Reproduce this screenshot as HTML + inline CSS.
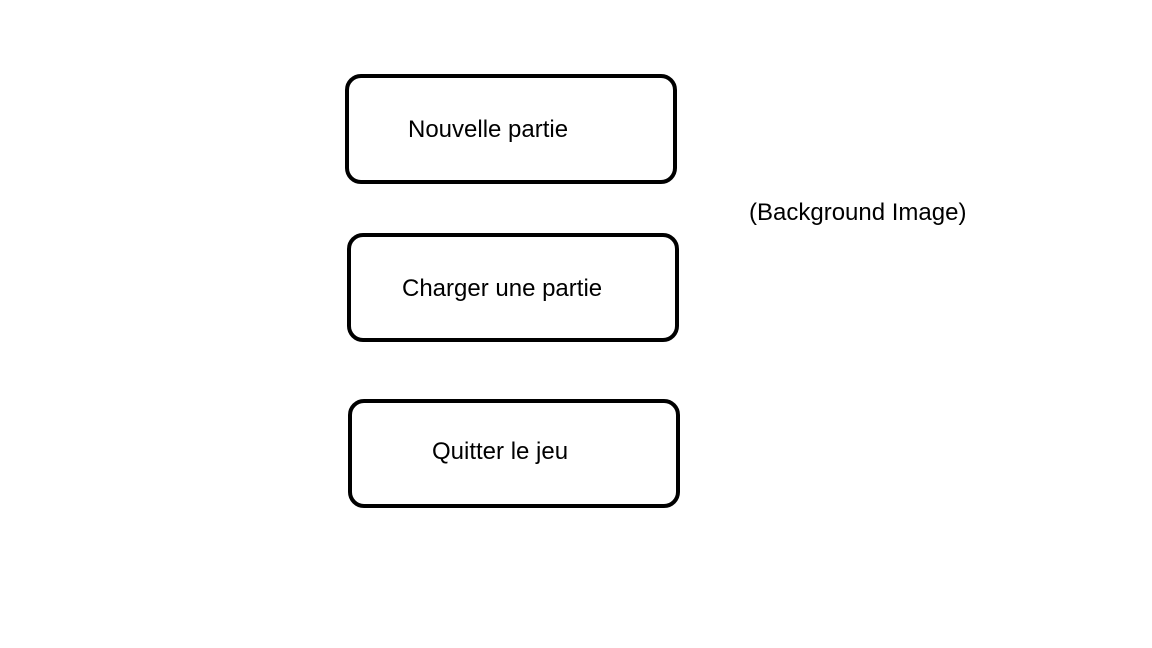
<!DOCTYPE html>
<html><head><style>
body{margin:0;width:1152px;height:648px;background:#fff;position:relative;overflow:hidden;font-family:"Liberation Sans",sans-serif;}
.b{position:absolute;border:4px solid #000;border-radius:16px;box-sizing:border-box;}
.t{position:absolute;font-size:24px;color:#000;white-space:nowrap;line-height:1;}
</style></head><body>
<div class="b" style="left:345px;top:74px;width:332px;height:110px"></div>
<div class="b" style="left:347px;top:233px;width:332px;height:109px"></div>
<div class="b" style="left:348px;top:399px;width:332px;height:109px"></div>
<div class="t" style="left:408px;top:118px">Nouvelle partie</div>
<div class="t" style="left:402px;top:277px">Charger une partie</div>
<div class="t" style="left:432px;top:440px">Quitter le jeu</div>
<div class="t" style="left:749px;top:201px">(Background Image)</div>
</body></html>
